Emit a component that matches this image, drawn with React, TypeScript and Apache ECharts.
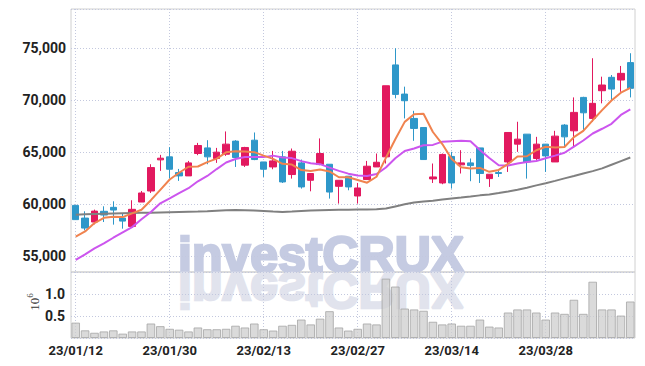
import React, { useEffect, useRef } from 'react';
import * as echarts from 'echarts';

const dates = [
  '23/01/12', '23/01/13', '23/01/16', '23/01/17', '23/01/18', '23/01/19', '23/01/20', '23/01/25', '23/01/26', '23/01/27',
  '23/01/30', '23/01/31', '23/02/01', '23/02/02', '23/02/03', '23/02/06', '23/02/07', '23/02/08', '23/02/09', '23/02/10',
  '23/02/13', '23/02/14', '23/02/15', '23/02/16', '23/02/17', '23/02/20', '23/02/21', '23/02/22', '23/02/23', '23/02/24',
  '23/02/27', '23/02/28', '23/03/02', '23/03/03', '23/03/06', '23/03/07', '23/03/08', '23/03/09', '23/03/10', '23/03/13',
  '23/03/14', '23/03/15', '23/03/16', '23/03/17', '23/03/20', '23/03/21', '23/03/22', '23/03/23', '23/03/24', '23/03/27',
  '23/03/28', '23/03/29', '23/03/30', '23/03/31', '23/04/03', '23/04/04', '23/04/05', '23/04/06', '23/04/07', '23/04/10',
];

const opens = [
  59900, 58680, 58300, 59330, 59710, 58680, 57880, 60220, 61280, 64270,
  64560, 63050, 62730, 64880, 65420, 64400, 64810, 66070, 63760, 66160,
  64070, 63590, 64560, 62860, 63980, 62310, 63820, 63850, 61730, 62700,
  60800, 62380, 63590, 64560, 73390, 70590, 68250, 67380, 62440, 62050,
  64600, 63790, 63980, 65420, 62470, 63050, 64070, 65780, 66740, 64400,
  65780, 64070, 67610, 67060, 70270, 68250, 70910, 72200, 71940, 73610,
];

const closes = [
  58530, 57720, 59350, 58970, 59450, 58390, 59520, 61090, 63530, 64430,
  63370, 62730, 63980, 65650, 64560, 65010, 65780, 64500, 65460, 64300,
  63370, 64170, 62150, 65100, 61670, 62960, 64880, 61180, 62310, 61670,
  61570, 63660, 64040, 71390, 70560, 69950, 67290, 64300, 62630, 64790,
  62050, 63980, 63720, 62960, 62890, 62960, 66900, 66260, 64070, 65780,
  64650, 66550, 66480, 68830, 68790, 69700, 71460, 71070, 72580, 71140,
];

const lows = [
  58530, 57500, 58070, 58300, 58050, 57660, 57880, 60220, 61090, 63210,
  62470, 62250, 62730, 64720, 63850, 63980, 64650, 63590, 63590, 64240,
  62630, 63370, 62050, 62470, 61510, 61250, 63760, 60550, 60070, 61350,
  60070, 62380, 63590, 63920, 70180, 68250, 66100, 64300, 62050, 61930,
  61510, 62960, 62220, 62050, 61670, 62630, 63110, 65040, 62470, 64140,
  63110, 64070, 65520, 65520, 67120, 67930, 69700, 70020, 70810, 70270,
];

const highs = [
  59900, 59330, 59490, 59810, 60290, 59100, 60390, 61280, 63850, 64750,
  65490, 63400, 64170, 65900, 66160, 65420, 67000, 66160, 65520, 66900,
  64070, 65130, 65130, 65360, 64300, 62960, 66330, 63850, 62310, 62700,
  62050, 64170, 64880, 71390, 74990, 71300, 68980, 67380, 63920, 64880,
  65040, 65200, 64400, 65420, 62890, 63370, 66900, 67930, 66740, 66480,
  65780, 67060, 67700, 70270, 70330, 74030, 72260, 72420, 73290, 74510,
];

const ma5 = [
  56900, 57400, 58200, 58700, 58804, 58776, 59136, 59484, 60396, 61392,
  62388, 63030, 63608, 63632, 64058, 64386, 64996, 65100, 65062, 65010,
  64682, 64360, 63890, 63818, 63292, 63210, 63352, 63158, 62600, 62600,
  62338, 62078, 62650, 64466, 66244, 67920, 68646, 68698, 66946, 65792,
  64352, 63550, 63434, 63500, 63120, 63302, 63886, 64602, 64616, 65194,
  65532, 65462, 65506, 66458, 67056, 68070, 69052, 69970, 70720, 71190,
];

const ma10 = [
  54670, 55190, 55760, 56240, 56790, 57300, 57810, 58560, 59260, 60098,
  60582, 61083, 61546, 62214, 62725, 63387, 64013, 64354, 64547, 64534,
  64534, 64678, 64495, 64440, 64151, 63946, 63856, 63524, 63209, 62946,
  62766, 62715, 62904, 63533, 64422, 65121, 65362, 65674, 65706, 66018,
  66066, 66098, 66066, 65223, 64456, 63757, 63718, 63914, 64058, 64157,
  64417, 64674, 64950, 65537, 66127, 66801, 67257, 67738, 68589, 69125,
];

const maLong = [
  59010, 59050, 59080, 59100, 59120, 59140, 59160, 59180, 59200, 59220,
  59240, 59260, 59280, 59300, 59330, 59380, 59430, 59460, 59440, 59400,
  59350, 59300, 59260, 59300, 59350, 59400, 59430, 59450, 59470, 59490,
  59500, 59510, 59520, 59600, 59800, 60000, 60180, 60280, 60350, 60470,
  60560, 60650, 60750, 60860, 60950, 61080, 61230, 61400, 61600, 61820,
  62030, 62250, 62490, 62720, 62960, 63190, 63450, 63800, 64150, 64500,
];

// volume in millions of shares (axis unit 10^6)
const volumesM = [
  0.35, 0.175, 0.12, 0.15, 0.175, 0.10, 0.15, 0.15, 0.33, 0.27,
  0.21, 0.19, 0.15, 0.24, 0.20, 0.20, 0.21, 0.28, 0.24, 0.33,
  0.20, 0.17, 0.28, 0.30, 0.42, 0.31, 0.44, 0.61, 0.24, 0.17,
  0.21, 0.33, 0.31, 1.35, 1.17, 0.67, 0.65, 0.62, 0.37, 0.31,
  0.33, 0.28, 0.28, 0.42, 0.26, 0.24, 0.58, 0.65, 0.65, 0.58,
  0.42, 0.58, 0.55, 0.87, 0.55, 1.28, 0.65, 0.65, 0.51, 0.83,
];

const priceTicks = [55000, 60000, 65000, 70000, 75000];
const volumeTicks = [0.5, 1.0];

const UP = '#e2195f';
const DOWN = '#2e97c9';
const GRID_LINE = '#c3c8de';
const LABEL_FONT = 'Roboto, "Liberation Sans", sans-serif';
const MARK_FONT = '"Liberation Sans", Arial, sans-serif';

export default function App() {
  const ref = useRef<HTMLDivElement>(null);

  useEffect(() => {
    if (!ref.current) return;
    const chart = echarts.init(ref.current, undefined, { renderer: 'svg' });

    const candleData = opens.map((o, i) => [o, closes[i], lows[i], highs[i]]);

    const splitLineStyle = { color: GRID_LINE, width: 1, type: [1, 2] as any };

    const option: any = {
      animation: false,
      backgroundColor: '#ffffff',
      graphic: [
        {
          type: 'text',
          x: 178,
          y: 254.5,
          z: 0,
          silent: true,
          style: {
            text: 'investCRUX',
            fontFamily: MARK_FONT,
            fontWeight: 'bold',
            fontSize: 50,
            fill: '#c5cbe2',
            stroke: '#c5cbe2',
            lineWidth: 2.5,
            verticalAlign: 'middle',
            align: 'left',
          },
        },
        {
          type: 'text',
          x: 178,
          y: 289.5,
          scaleY: -1,
          z: 0,
          silent: true,
          style: {
            text: 'investCRUX',
            fontFamily: MARK_FONT,
            fontWeight: 'bold',
            fontSize: 50,
            fill: '#e1e3ed',
            stroke: '#e1e3ed',
            lineWidth: 2.5,
            verticalAlign: 'middle',
            align: 'left',
          },
        },
        {
          type: 'text',
          x: 33,
          y: 302,
          rotation: Math.PI / 2,
          silent: true,
          style: {
            text: '{a|10}{b|6}',
            align: 'center',
            verticalAlign: 'middle',
            rich: {
              a: { fontFamily: '"Liberation Serif", serif', fontSize: 13, fill: '#333', verticalAlign: 'bottom' },
              b: { fontFamily: '"Liberation Serif", serif', fontSize: 9, fill: '#333', verticalAlign: 'top', padding: [0, 0, 6, 0] },
            },
          },
        },
      ],
      grid: [
        { left: 71, right: 10, top: 9, height: 263, show: true, borderColor: '#d0d0d0', borderWidth: 1, backgroundColor: 'transparent' },
        { left: 71, right: 10, top: 272, height: 66, show: true, borderColor: '#d0d0d0', borderWidth: 1, backgroundColor: 'transparent' },
      ],
      xAxis: [
        {
          type: 'category',
          gridIndex: 0,
          data: dates,
          boundaryGap: true,
          axisLine: { show: false },
          axisTick: { show: false },
          axisLabel: { show: false },
          splitLine: { show: true, interval: 9, alignWithLabel: true, lineStyle: splitLineStyle },
        },
        {
          type: 'category',
          gridIndex: 1,
          data: dates,
          boundaryGap: true,
          axisLine: { show: false },
          axisTick: { show: false },
          axisLabel: {
            show: true,
            interval: 9,
            fontFamily: LABEL_FONT,
            fontWeight: 'bold',
            fontSize: 13,
            color: '#222',
            margin: 6,
          },
          splitLine: { show: true, interval: 9, alignWithLabel: true, lineStyle: splitLineStyle },
        },
      ],
      yAxis: [
        {
          type: 'value',
          gridIndex: 0,
          min: 53500,
          max: 78760,
          splitNumber: 5,
          axisLine: { show: false },
          axisTick: { show: false },
          axisLabel: {
            fontFamily: LABEL_FONT,
            fontWeight: 'bold',
            fontSize: 14,
            color: '#222',
            margin: 5,
            formatter: (v: number) => (priceTicks.indexOf(v) >= 0 ? v.toLocaleString('en-US') : ''),
          },
          splitLine: { show: true, lineStyle: splitLineStyle },
        },
        {
          type: 'value',
          gridIndex: 1,
          min: 0,
          max: 1.5,
          interval: 0.5,
          axisLine: { show: false },
          axisTick: { show: false },
          axisLabel: {
            fontFamily: LABEL_FONT,
            fontWeight: 'bold',
            fontSize: 14,
            color: '#222',
            margin: 6,
            formatter: (v: number) => (volumeTicks.indexOf(v) >= 0 ? v.toFixed(1) : ''),
          },
          splitLine: { show: true, lineStyle: splitLineStyle },
        },
      ],
      series: [
        {
          name: 'volume',
          type: 'bar',
          xAxisIndex: 1,
          yAxisIndex: 1,
          data: volumesM,
          barCategoryGap: '8%',
          z: 3,
          itemStyle: { color: 'rgba(205,205,205,0.75)', borderColor: 'rgba(165,165,165,0.8)', borderWidth: 1 },
        },
        {
          name: 'price',
          type: 'candlestick',
          xAxisIndex: 0,
          yAxisIndex: 0,
          data: candleData,
          barWidth: 7,
          z: 3,
          itemStyle: { color: UP, color0: DOWN, borderColor: UP, borderColor0: DOWN, borderWidth: 1 },
        },
        {
          name: 'MA long',
          type: 'line',
          xAxisIndex: 0,
          yAxisIndex: 0,
          data: maLong,
          symbol: 'none',
          z: 4,
          lineStyle: { color: '#808080', width: 2 },
        },
        {
          name: 'MA10',
          type: 'line',
          xAxisIndex: 0,
          yAxisIndex: 0,
          data: ma10,
          symbol: 'none',
          z: 4,
          lineStyle: { color: '#cc55ee', width: 2 },
        },
        {
          name: 'MA5',
          type: 'line',
          xAxisIndex: 0,
          yAxisIndex: 0,
          data: ma5,
          symbol: 'none',
          z: 4,
          lineStyle: { color: '#f0834f', width: 2 },
        },
      ],
    };

    chart.setOption(option);
    return () => chart.dispose();
  }, []);

  return <div ref={ref} style={{ width: 645, height: 366, margin: -8 }} />;
}
